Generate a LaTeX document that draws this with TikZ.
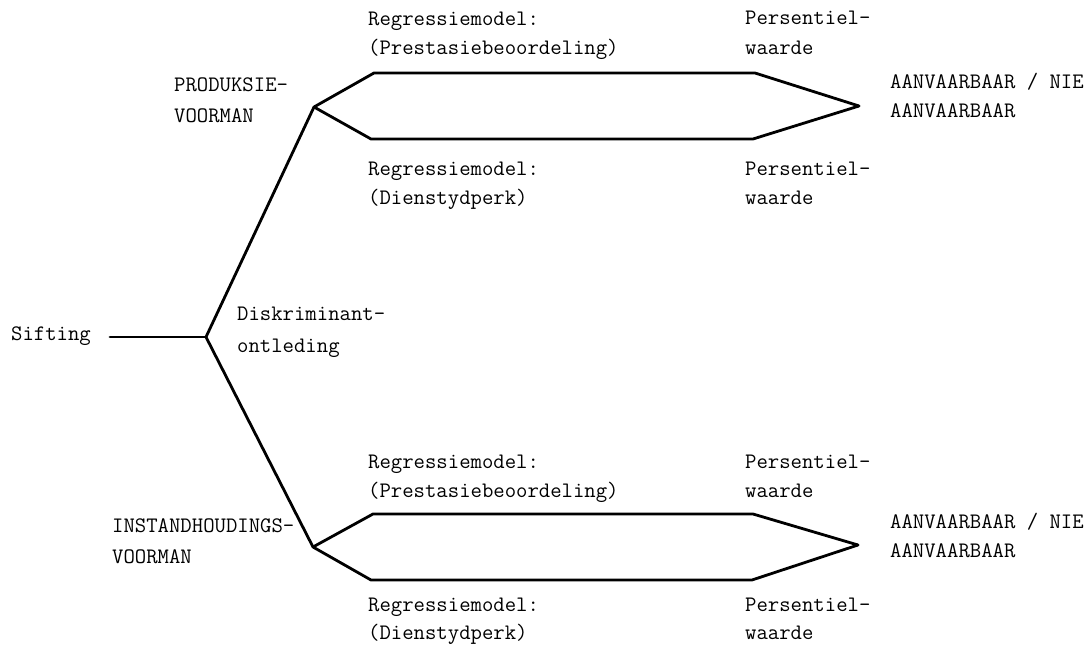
\documentclass[tikz,border=0pt]{standalone}
\begin{document}
\begin{tikzpicture}[x=1pt,y=-1pt,
  lbl/.style={anchor=base west,inner sep=0pt,font=\fontsize{22.1pt}{29pt}\selectfont\ttfamily},
  branch/.style={line width=2.8pt,line join=round,line cap=round}]
\useasboundingbox (0,0) rectangle (1092,647);
% vertices
\coordinate (s0) at (110,337);
\coordinate (J) at (206,337);
\coordinate (P1) at (314,107);
\coordinate (P2) at (313,547);
\coordinate (U1a) at (374,73);
\coordinate (U1b) at (755,73);
\coordinate (A1) at (859,106);
\coordinate (L1a) at (371,139);
\coordinate (L1b) at (753,139);
\coordinate (U2a) at (373,514);
\coordinate (U2b) at (753,514);
\coordinate (A2) at (858,545);
\coordinate (L2a) at (371,580);
\coordinate (L2b) at (752,580);
% connectors
\draw[branch] (s0) -- (J);
\draw[branch] (P1) -- (J) -- (P2);
\draw[branch] (P1) -- (U1a) -- (U1b) -- (A1);
\draw[branch] (P1) -- (L1a) -- (L1b) -- (A1);
\draw[branch] (P2) -- (U2a) -- (U2b) -- (A2);
\draw[branch] (P2) -- (L2a) -- (L2b) -- (A2);
% labels
\node[lbl] (sift) at (11,340) {Sifting};
\node[lbl] (disk1) at (237,320) {Diskriminant-};
\node[lbl] (disk2) at (237,352) {ontleding};
\node[lbl] (prod1) at (174,92) {PRODUKSIE-};
\node[lbl] (prod2) at (174,123) {VOORMAN};
\node[lbl] (inst1) at (112,532) {INSTANDHOUDINGS-};
\node[lbl] (inst2) at (112,563) {VOORMAN};
% top group
\node[lbl] (r1a) at (368,26) {Regressiemodel:};
\node[lbl] (r1b) at (368,55) {(Prestasiebeoordeling)};
\node[lbl] (p1a) at (745,25) {Persentiel-};
\node[lbl] (p1b) at (745,55) {waarde};
\node[lbl] (r2a) at (368,176) {Regressiemodel:};
\node[lbl] (r2b) at (368,205) {(Dienstydperk)};
\node[lbl] (p2a) at (745,176) {Persentiel-};
\node[lbl] (p2b) at (745,205) {waarde};
\node[lbl] (a1a) at (890,89) {AANVAARBAAR / NIE};
\node[lbl] (a1b) at (890,118) {AANVAARBAAR};
% bottom group
\node[lbl] (r3a) at (368,468) {Regressiemodel:};
\node[lbl] (r3b) at (368,497) {(Prestasiebeoordeling)};
\node[lbl] (p3a) at (745,468) {Persentiel-};
\node[lbl] (p3b) at (745,497) {waarde};
\node[lbl] (r4a) at (368,611) {Regressiemodel:};
\node[lbl] (r4b) at (368,639) {(Dienstydperk)};
\node[lbl] (p4a) at (745,611) {Persentiel-};
\node[lbl] (p4b) at (745,639) {waarde};
\node[lbl] (a2a) at (890,528) {AANVAARBAAR / NIE};
\node[lbl] (a2b) at (890,557) {AANVAARBAAR};
\end{tikzpicture}
\end{document}
